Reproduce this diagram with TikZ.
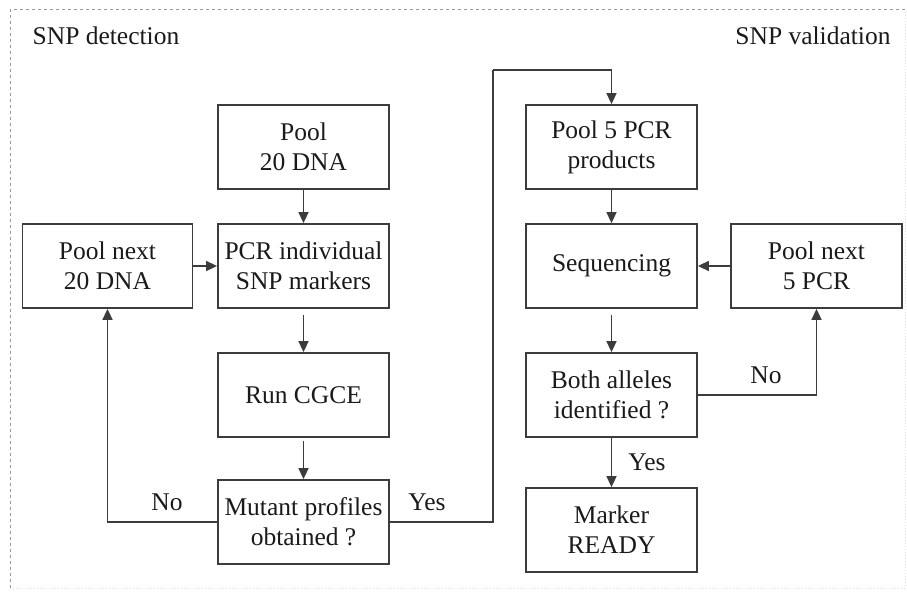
\documentclass[tikz,border=0pt]{standalone}
\usepackage{fontspec}
\setmainfont{LiberationSerif}[Extension=.ttf, UprightFont=*-Regular, BoldFont=*-Bold, ItalicFont=*-Italic, BoldItalicFont=*-BoldItalic]
\usetikzlibrary{arrows.meta}
\definecolor{linegray}{HTML}{3C3C3C}
\definecolor{txt}{HTML}{1A1A1A}
\begin{document}
\begin{tikzpicture}[x=1pt,y=-1pt,
  font=\fontsize{25.5}{30}\selectfont,
  box/.style={draw=linegray, line width=1.8pt, fill=white, text=txt, align=center,
    minimum width=171pt, minimum height=84pt, inner sep=0pt},
  arr/.style={draw=linegray, line width=1.6pt, -{Triangle[length=11pt,width=10pt]}},
  lbl/.style={text=txt, inner sep=0pt}]
\useasboundingbox (0,0) rectangle (907,594);
% frame
\draw[gray!80, line width=1pt, dashed] (10,588) -- (10,10) -- (907,10);
\draw[gray!25, line width=1pt, dotted] (10,588) -- (905,588) -- (905,10);
% titles
\node[lbl] (t1) at (106,36) {SNP detection};
\node[lbl] (t2) at (813,36) {SNP validation};
% left column
\node[box] (pool20) at (303.5,147) {Pool\\20 DNA};
\node[box] (pcr) at (303.5,266) {PCR individual\\SNP markers};
\node[box, minimum width=170pt] (next20) at (107.5,266) {Pool next\\20 DNA};
\node[box] (cgce) at (303.5,395) {Run CGCE};
\node[box] (mutant) at (303.5,522) {Mutant profiles\\obtained ?};
% right column
\node[box] (pool5) at (611.5,147) {Pool 5 PCR\\products};
\node[box] (seq) at (611.5,266) {Sequencing};
\node[box] (next5) at (816.5,266) {Pool next\\5 PCR};
\node[box] (both) at (611.5,395) {Both alleles\\identified ?};
\node[box] (ready) at (611.5,530) {Marker\\READY};
% helper coordinates
\coordinate (yes1) at (493,70);
% connectors
\draw[arr] (pool20) -- (pcr);
\draw[arr, shorten <=6pt] (pcr) -- (cgce);
\draw[arr, shorten <=3pt] (cgce) -- (mutant);
\draw[arr] (next20) -- (pcr);
\draw[arr] (mutant.west) -| (next20.south);
\draw[draw=linegray, line width=1.6pt] (mutant.east) -| (yes1);
\draw[arr] (yes1) -| (pool5.north);
\draw[arr] (pool5) -- (seq);
\draw[arr] (next5) -- (seq);
\draw[arr, shorten <=6pt] (seq) -- (both);
\draw[arr] (both.east) -| (next5.south);
\draw[arr] (both) -- (ready);
% labels
\node[lbl] (no1) at (167,502) {No};
\node[lbl] (yes2) at (427,502) {Yes};
\node[lbl] (no2) at (766,375) {No};
\node[lbl] (yes3) at (647,462) {Yes};
\end{tikzpicture}
\end{document}
